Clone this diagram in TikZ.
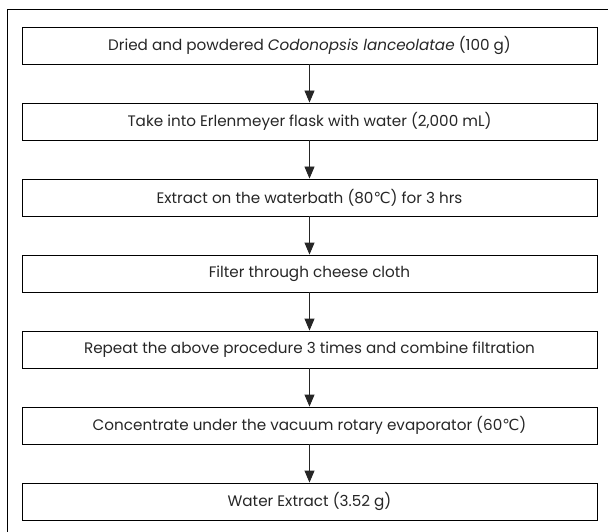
\documentclass[tikz,border=0pt]{standalone}
\usepackage{fontspec}
\setmainfont{Poppins}
\newfontfamily\symfont{DejaVu Sans}
\usetikzlibrary{arrows.meta}
\tikzset{
  stepbox/.style={draw=black, line width=0.9pt, minimum width=575pt, minimum height=37pt, inner sep=0pt, font=\fontsize{15.2}{18}\selectfont, text=black!85},
  flow/.style={draw=black!85, line width=0.9pt, -{Triangle[width=10pt,length=12pt]}},
  frame/.style={draw=black, line width=0.9pt}
}
\newcommand{\degc}{{\symfont ℃}}
\begin{document}
\begin{tikzpicture}[x=1pt,y=-1pt]
\useasboundingbox (0,0) rectangle (608,532);
\draw[frame] (7,532) -- (7,9) -- (608,9);
\node[stepbox] (s1) at (309.5,45.5) {Dried and powdered \textit{Codonopsis lanceolatae} (100 g)};
\node[stepbox] (s2) at (309.5,121.5) {Take into Erlenmeyer flask with water (2,000 mL)};
\node[stepbox] (s3) at (309.5,197.5) {Extract on the waterbath (80\degc) for 3 hrs};
\node[stepbox] (s4) at (309.5,273.5) {Filter through cheese cloth};
\node[stepbox] (s5) at (309.5,349.5) {Repeat the above procedure 3 times and combine filtration};
\node[stepbox] (s6) at (309.5,425.5) {Concentrate under the vacuum rotary evaporator (60\degc)};
\node[stepbox] (s7) at (309.5,501.5) {Water Extract (3.52 g)};
\draw[flow] (s1) -- (s2);
\draw[flow] (s2) -- (s3);
\draw[flow] (s3) -- (s4);
\draw[flow] (s4) -- (s5);
\draw[flow] (s5) -- (s6);
\draw[flow] (s6) -- (s7);
\end{tikzpicture}
\end{document}
